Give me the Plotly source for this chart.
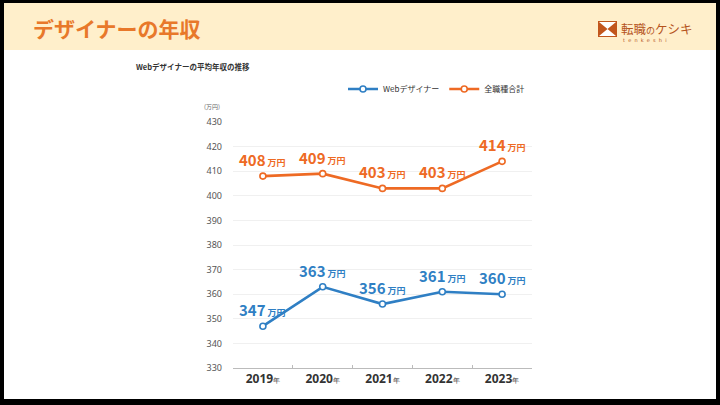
import plotly.graph_objects as go

years = ["2019", "2020", "2021", "2022", "2023"]
web_designer = [347, 363, 356, 361, 360]
all_jobs = [408, 409, 403, 403, 414]
y_ticks = [330, 340, 350, 360, 370, 380, 390, 400, 410, 420, 430]

BLUE = "#2F7FC4"
ORANGE = "#EE6A24"
JP = "Noto Sans CJK JP"

W, H = 720, 405
L, R, T, B = 233, 532, 122, 368


def px(x):
    return (x - L) / (R - L)


def py(y):
    return (B - y) / (B - T)


def label(v):
    return f"<b>{v}</b><span style='font-size:9px'><b> 万円</b></span>"


fig = go.Figure()

for name, vals, col in [("Webデザイナー", web_designer, BLUE), ("全職種合計", all_jobs, ORANGE)]:
    fig.add_trace(go.Scatter(
        x=years, y=vals, name=name, mode="lines+markers",
        line=dict(color=col, width=2.6),
        marker=dict(symbol="circle", size=6, color="white", line=dict(color=col, width=1.6)),
    ))

annotations = []
for vals, col in [(web_designer, BLUE), (all_jobs, ORANGE)]:
    for i, v in enumerate(vals):
        annotations.append(dict(
            x=i, y=v, xref="x", yref="y", text=label(v), showarrow=False,
            xanchor="center", yanchor="bottom", yshift=4,
            font=dict(family=JP, size=15, color=col),
        ))

shapes = [
    dict(type="rect", xref="paper", yref="paper", x0=px(4), x1=px(716), y0=py(50), y1=py(3),
         fillcolor="#FFEFCB", line=dict(width=0), layer="below"),
    dict(type="rect", xref="paper", yref="paper", x0=px(4), x1=px(716), y0=py(399), y1=py(50),
         fillcolor="#FFFFFF", line=dict(width=0), layer="below"),
    dict(type="rect", xref="paper", yref="paper", x0=px(598), x1=px(617), y0=py(37), y1=py(21),
         fillcolor="#C2561C", line=dict(width=0)),
    dict(type="path", xref="paper", yref="paper",
         path=f"M {px(599)},{py(22)} L {px(616)},{py(22)} L {px(607.5)},{py(29)} Z "
              f"M {px(599)},{py(36)} L {px(616)},{py(36)} L {px(607.5)},{py(29)} Z",
         fillcolor="white", line=dict(width=0)),
]

annotations += [
    dict(text="<b>デザイナーの年収</b>", x=px(31), y=py(28), xref="paper", yref="paper",
         xanchor="left", yanchor="middle", showarrow=False,
         font=dict(family=JP, size=21, color="#E8782A")),
    dict(text="転職<span style='font-size:9px'>の</span>ケシキ", x=px(619), y=py(28), xref="paper", yref="paper",
         xanchor="left", yanchor="middle", showarrow=False,
         font=dict(family=JP, size=12.5, color="#B5541C")),
    dict(text="t  e  n  k  e  s  h  i", x=px(621), y=py(40), xref="paper", yref="paper",
         xanchor="left", yanchor="middle", showarrow=False,
         font=dict(family="DejaVu Sans", size=5, color="#B5541C")),
    dict(text="<b>Webデザイナーの平均年収の推移</b>", x=px(134), y=py(67), xref="paper", yref="paper",
         xanchor="left", yanchor="middle", showarrow=False,
         font=dict(family=JP, size=7.5, color="#333333")),
    dict(text="(万円)", x=px(222), y=py(107), xref="paper", yref="paper",
         xanchor="right", yanchor="middle", showarrow=False,
         font=dict(family=JP, size=6, color="#666666")),
]

fig.update_layout(
    width=W, height=H, autosize=False,
    margin=dict(l=L, r=W - R, t=T, b=H - B, pad=0),
    paper_bgcolor="#000000", plot_bgcolor="rgba(0,0,0,0)",
    shapes=shapes, annotations=annotations,
    font=dict(family=JP, color="#333333"),
    legend=dict(orientation="h", x=px(530), xanchor="right", y=py(89), yanchor="middle",
                font=dict(family=JP, size=8, color="#333333"), bgcolor="rgba(0,0,0,0)",
                itemwidth=30, traceorder="normal"),
    xaxis=dict(
        type="category", range=[-0.5, 4.5], tickmode="array", tickvals=years,
        ticktext=[f"<b>{y}</b><span style='font-size:7px'>年</span>" for y in years],
        tickfont=dict(family="Noto Sans", size=12, color="#333333"),
        showgrid=False, showline=True, linecolor="#BBBBBB", linewidth=1,
        ticks="inside", tickson="boundaries", ticklen=3, tickcolor="#BBBBBB",
        fixedrange=True, automargin=False,
    ),
    yaxis=dict(
        range=[330, 430], tickmode="array", tickvals=y_ticks,
        tickfont=dict(family="Noto Sans", size=9, color="#555555"),
        showgrid=True, gridcolor="#F0F0F0", gridwidth=1, zeroline=False, showline=False,
        ticklabelstandoff=10, fixedrange=True, automargin=False,
    ),
)

fig.write_html("out.html", config={"displayModeBar": False},
               post_script="document.body.style.margin='0';document.body.style.overflow='hidden';")
